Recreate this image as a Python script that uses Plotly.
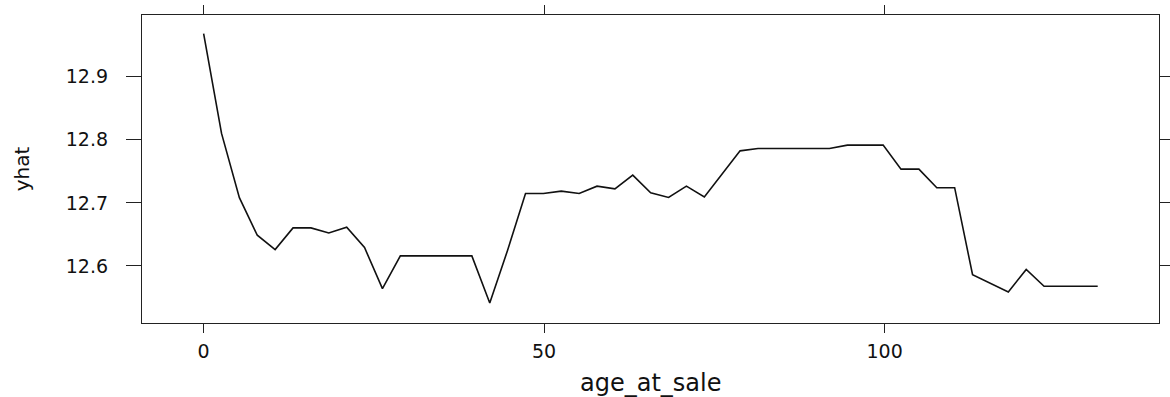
import plotly.graph_objects as go

# Partial-dependence style curve: predicted yhat over the age_at_sale grid
age_at_sale = [
    0.00, 2.63, 5.25, 7.88, 10.50, 13.13, 15.76, 18.38, 21.01, 23.63,
    26.26, 28.89, 31.51, 34.14, 36.76, 39.39, 42.02, 44.64, 47.27, 49.89,
    52.52, 55.15, 57.77, 60.40, 63.02, 65.65, 68.28, 70.90, 73.53, 76.15,
    78.78, 81.41, 84.03, 86.66, 89.28, 91.91, 94.54, 97.16, 99.79, 102.41,
    105.04, 107.67, 110.29, 112.92, 115.54, 118.17, 120.80, 123.42, 126.05, 128.67,
    131.30,
]
yhat = [
    12.9686, 12.8102, 12.7083, 12.6487, 12.6260, 12.6603, 12.6603, 12.6524, 12.6614, 12.6292,
    12.5641, 12.6159, 12.6159, 12.6159, 12.6159, 12.6159, 12.5413, 12.6249, 12.7149, 12.7149,
    12.7186, 12.7149, 12.7265, 12.7222, 12.7440, 12.7159, 12.7086, 12.7265, 12.7095, 12.7456,
    12.7825, 12.7863, 12.7863, 12.7863, 12.7863, 12.7863, 12.7916, 12.7916, 12.7916, 12.7535,
    12.7535, 12.7241, 12.7241, 12.5860, 12.5730, 12.5587, 12.5943, 12.5678, 12.5678, 12.5678,
    12.5678,
]

x_ticks = [0, 50, 100]
x_tick_labels = ["0", "50", "100"]
y_ticks = [12.6, 12.7, 12.8, 12.9]
y_tick_labels = ["12.6", "12.7", "12.8", "12.9"]

FONT = "DejaVu Sans"
INK = "#111111"

fig = go.Figure(
    go.Scatter(
        x=age_at_sale,
        y=yhat,
        mode="lines",
        line=dict(color=INK, width=1.6),
        hoverinfo="x+y",
    )
)

axis_common = dict(
    automargin=False,
    showgrid=False,
    zeroline=False,
    showline=True,
    linecolor="#222222",
    linewidth=1.2,
    mirror="ticks",
    ticks="outside",
    tickcolor="#222222",
    tickwidth=1.2,
    tickfont=dict(family=FONT, size=19, color=INK),
)

fig.update_layout(
    width=1170,
    height=397,
    margin=dict(l=142, r=11, t=15, b=74, pad=0),
    paper_bgcolor="white",
    plot_bgcolor="white",
    showlegend=False,
    xaxis=dict(
        range=[-9.05, 140.3],
        tickmode="array",
        tickvals=x_ticks,
        ticktext=x_tick_labels,
        ticklen=9,
        ticklabelstandoff=2,
        **axis_common,
    ),
    yaxis=dict(
        range=[12.5095, 12.998],
        tickmode="array",
        tickvals=y_ticks,
        ticktext=y_tick_labels,
        ticklen=15,
        ticklabelstandoff=14,
        **axis_common,
    ),
    annotations=[
        dict(
            text="age_at_sale",
            xref="paper", yref="paper",
            x=0.5, y=-0.1958,
            xanchor="center", yanchor="middle",
            showarrow=False,
            font=dict(family=FONT, size=24, color=INK),
        ),
        dict(
            text="yhat",
            xref="paper", yref="paper",
            x=-0.1177, y=0.5,
            xanchor="center", yanchor="middle",
            textangle=-90,
            showarrow=False,
            font=dict(family=FONT, size=20, color=INK),
        ),
    ],
)

fig.write_html("out.html")
